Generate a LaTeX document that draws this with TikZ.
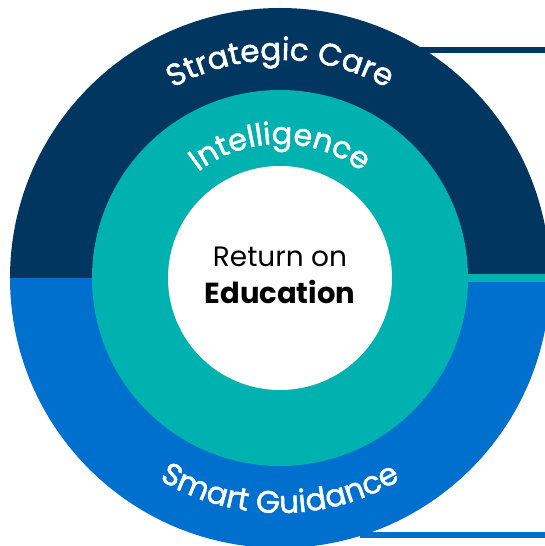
\documentclass[tikz,border=0pt]{standalone}
\usepackage{fontspec}
\setmainfont{Poppins}
\newfontfamily\ringfont[FakeBold=1.6]{Poppins}
\usetikzlibrary{decorations.text}
\definecolor{navy}{RGB}{0,54,96}
\definecolor{brightblue}{RGB}{0,112,206}
\definecolor{teal}{RGB}{0,178,175}
\tikzset{
  ringtext/.style={decorate, decoration={text along path, text align=center, text={#1}}},
  centretext/.style={anchor=base, inner sep=0pt, text=black}
}
\begin{document}
\begin{tikzpicture}[x=1pt,y=1pt]
\useasboundingbox (-280,-268) rectangle (265,278);
\begin{scope}
\clip (-280,-268) rectangle (265,278);
% outer ring halves
\fill[navy] (0:270pt) arc[start angle=0, end angle=180, radius=270pt] -- cycle;
\fill[brightblue] (180:270pt) arc[start angle=180, end angle=360, radius=270pt] -- cycle;
% side bars
\fill[navy] (140,225) rectangle (265,231);
\fill[brightblue] (80,-260) rectangle (265,-254);
\fill[teal] (0,-4) rectangle (265,4);
% inner rings
\fill[teal] (0,0) circle[radius=188pt];
\fill[white] (0,0) circle[radius=112pt];
\end{scope}
% curved labels
\path[ringtext={|\ringfont\fontsize{31}{31}\selectfont\color{white}|Strategic Care}]
  (150:218pt) arc[start angle=150, end angle=30, radius=218pt];
\path[ringtext={|\ringfont\fontsize{30.5}{30}\selectfont\color{white}|Intelligence}]
  (145:134pt) arc[start angle=145, end angle=35, radius=134pt];
\path[ringtext={|\ringfont\fontsize{31}{31}\selectfont\color{white}|Smart Guidance}]
  (210:235pt) arc[start angle=210, end angle=330, radius=235pt];
% centre text
\node[centretext] (roe1) at (0,11) {\fontsize{28}{28}\selectfont Return on};
\node[centretext] (roe2) at (0,-25) {\fontsize{29}{29}\selectfont\bfseries Education};
\end{tikzpicture}
\end{document}
